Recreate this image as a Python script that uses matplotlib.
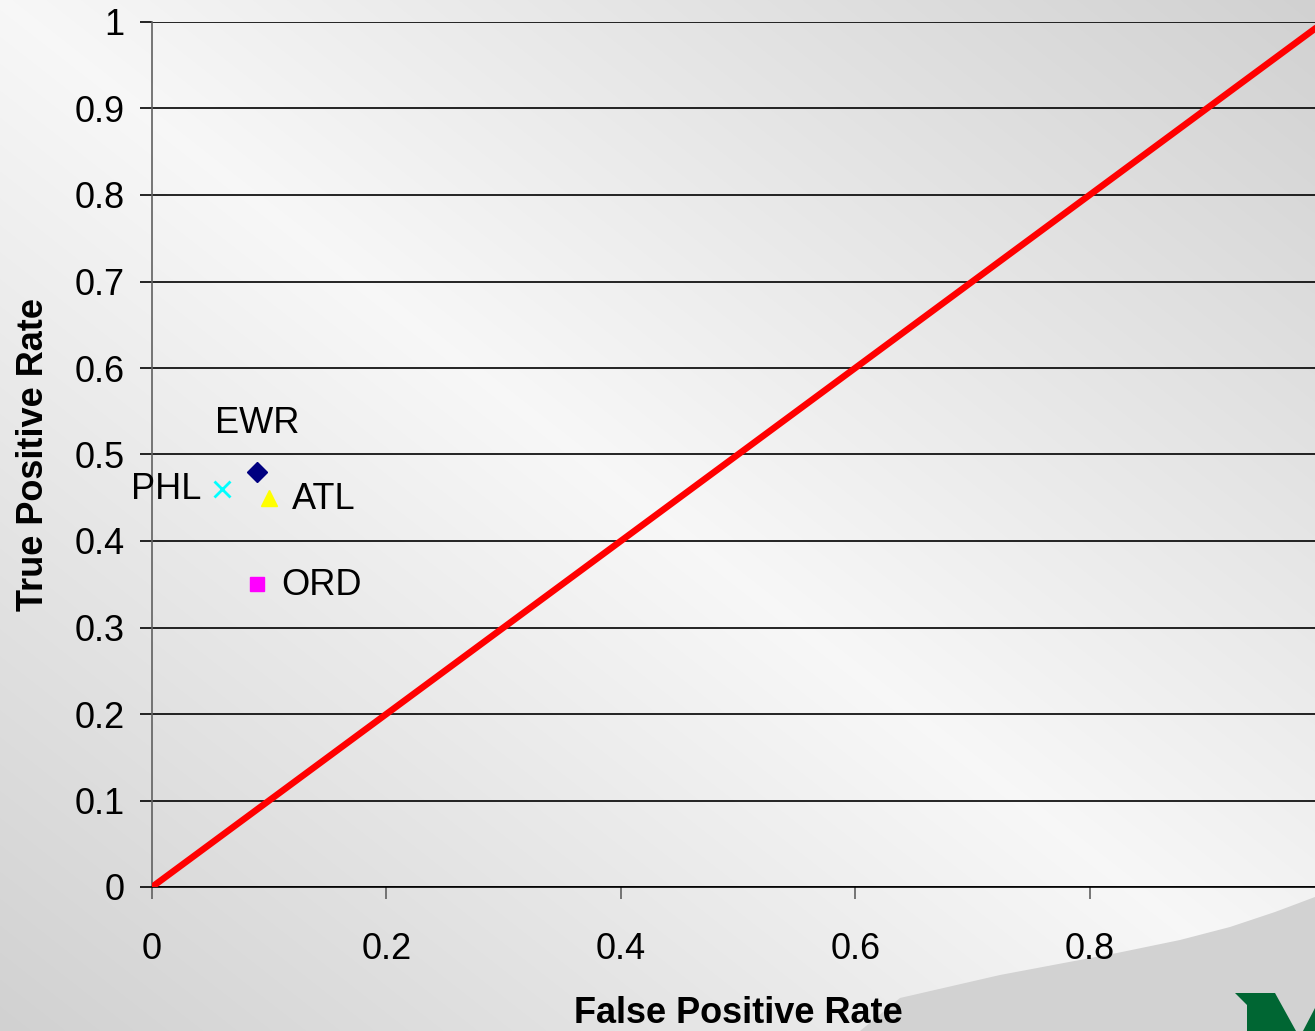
import matplotlib
matplotlib.use("Agg")
import matplotlib.pyplot as plt
import numpy as np

plt.rcParams['font.family'] = ['Liberation Sans', 'DejaVu Sans']

# data
airports = ["EWR", "PHL", "ATL", "ORD"]
fpr = [0.09, 0.06, 0.10, 0.09]
tpr = [0.48, 0.46, 0.45, 0.35]
markers = ['D', 'x', '^', 's']
colors = ['#000080', '#00FFFF', '#FFFF00', '#FF00FF']
# label offsets (points) and alignment
label_offsets = [(0, 35), (-15, 0), (16, -1), (17, -1)]
label_ha = ['center', 'right', 'left', 'left']

diag_x = [0, 1]
diag_y = [0, 1]
xticks = [0, 0.2, 0.4, 0.6, 0.8]
xticklabels = ["0", "0.2", "0.4", "0.6", "0.8"]
yticks = [0, 0.1, 0.2, 0.3, 0.4, 0.5, 0.6, 0.7, 0.8, 0.9, 1.0]
yticklabels = ["0", "0.1", "0.2", "0.3", "0.4", "0.5", "0.6", "0.7", "0.8", "0.9", "1"]

W, H = 1315, 1031
fig = plt.figure(figsize=(W / 100, H / 100), dpi=100)

# background: light band along the top-left / bottom-right diagonal
bg = fig.add_axes([0, 0, 1, 1], zorder=-1)
yy, xx = np.mgrid[0:H, 0:W]
d = np.abs(H * xx - W * yy) / np.hypot(W, H)
v = 0.97 - 0.15 * d / d.max()
bg.imshow(np.dstack([v, v, v]), extent=(0, W, H, 0), aspect='auto')
# grey swoosh + logo corner (decoration)
curve = [(860, 1031), (900, 998), (1000, 975), (1117, 953), (1180, 940),
         (1230, 927), (1275, 912), (1315, 897), (1315, 1031)]
bg.add_patch(plt.Polygon(curve, closed=True, color='#d2d2d2', lw=0))
bg.add_patch(plt.Polygon([(1235, 993), (1275, 993), (1296, 1031), (1247, 1031), (1247, 1005)],
                         closed=True, color='#006633', lw=0))
bg.add_patch(plt.Polygon([(1303, 1031), (1315, 1008), (1315, 1031)], closed=True, color='#006633', lw=0))
bg.set_xlim(0, W)
bg.set_ylim(H, 0)
bg.axis('off')

ax = fig.add_axes([152 / W, 144 / H, 1172 / W, 865 / H])
ax.set_facecolor('none')

for y in yticks:
    ax.axhline(y, color='black', lw=1.2, zorder=1)

ax.plot(diag_x, diag_y, color='red', lw=4.7, solid_capstyle='round', zorder=3)

for name, x, y, m, c, off, ha in zip(airports, fpr, tpr, markers, colors, label_offsets, label_ha):
    if m == 'x':
        ax.plot(x, y, marker=m, color=c, ms=12, mew=2, ls='none', zorder=4)
    elif m == 'D':
        ax.plot(x, y, marker=m, color=c, ms=10, ls='none', zorder=4)
    else:
        ax.plot(x, y, marker=m, color=c, ms=12 if m == '^' else 10, ls='none', zorder=4)
    ax.annotate(name, (x, y), xytext=off, textcoords='offset points',
                ha=ha, va='center', fontsize=26)

ax.set_xlim(0, 1)
ax.set_ylim(0, 1)
ax.set_xticks(xticks)
ax.set_xticklabels(xticklabels)
ax.set_yticks(yticks)
ax.set_yticklabels(yticklabels)
ax.tick_params(axis='x', length=8.6, width=1.2, color='#606060', pad=24, labelsize=26)
ax.tick_params(axis='y', length=8.6, width=1.2, color='black', pad=11, labelsize=26)

for s in ['top', 'right']:
    ax.spines[s].set_visible(False)
ax.spines['left'].set_color('#606060')
ax.spines['left'].set_linewidth(1.2)
ax.spines['bottom'].set_color('black')
ax.spines['bottom'].set_linewidth(1.2)

ax.set_xlabel("False Positive Rate", fontsize=26, fontweight='bold')
ax.xaxis.set_label_coords(0.5, -0.126)
ax.set_ylabel("True Positive Rate", fontsize=26, fontweight='bold')
ax.yaxis.set_label_coords(-0.086, 0.5)

fig.savefig("out.png", dpi=100)
